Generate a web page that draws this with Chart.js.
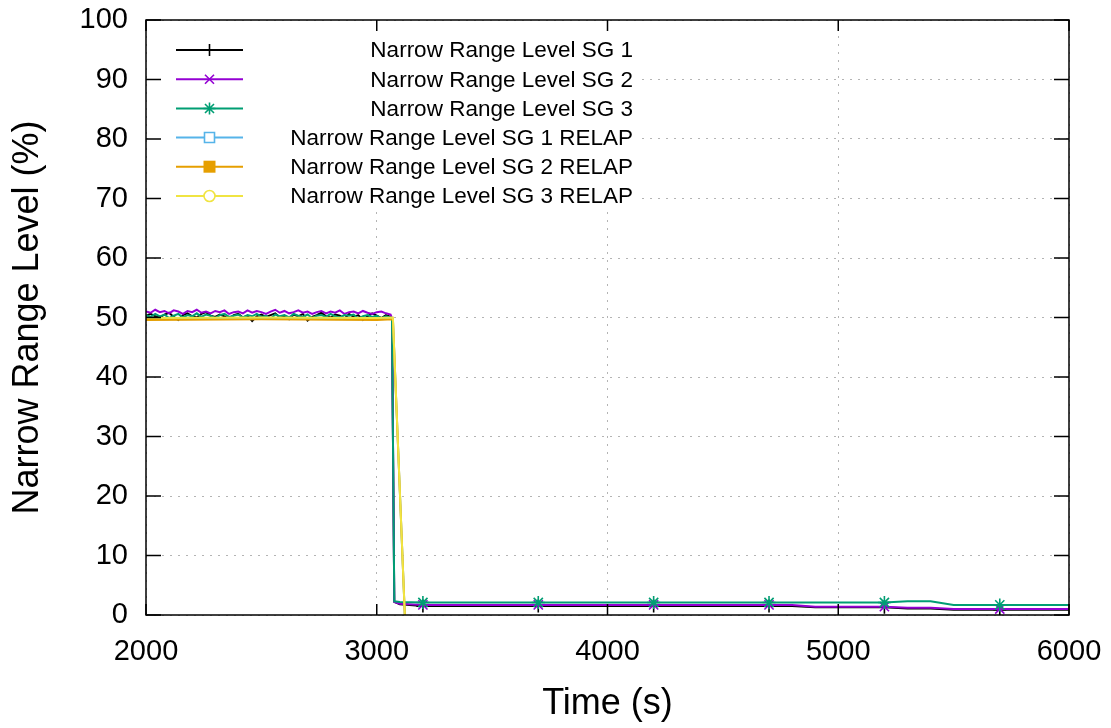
<!DOCTYPE html>
<html>
<head>
<meta charset="utf-8">
<script src="https://cdn.jsdelivr.net/npm/chart.js@4.4.0/dist/chart.umd.min.js"></script>
<style>
  html, body { margin: 0; padding: 0; background: #fff; }
  #wrap { width: 1111px; height: 728px; }
</style>
</head>
<body>
<div id="wrap"><canvas id="nivelChart" width="1111" height="728"></canvas></div>
<script>
// Tiempos de las series medidas (s)
const tiempoMedido = [
    2000, 2020, 2040, 2060, 2080, 2100, 2120, 2140, 2160, 2180,
    2200, 2220, 2240, 2260, 2280, 2300, 2320, 2340, 2360, 2380,
    2400, 2420, 2440, 2460, 2480, 2500, 2520, 2540, 2560, 2580,
    2600, 2620, 2640, 2660, 2680, 2700, 2720, 2740, 2760, 2780,
    2800, 2820, 2840, 2860, 2880, 2900, 2920, 2940, 2960, 2980,
    3000, 3020, 3040, 3060,
    3066, 3076, 3100,
    3200, 3300, 3400, 3500, 3600, 3700, 3800, 3900, 4000, 4100,
    4200, 4300, 4400, 4500, 4600, 4700, 4800, 4900, 5000, 5100,
    5200, 5300, 5400, 5500, 5600, 5700, 5800, 5900, 6000
];

const nivelSG1 = [
    50.3, 50.6, 50.2, 50.0, 50.5, 50.8, 50.1, 49.6, 50.4, 50.7,
    50.2, 50.0, 50.6, 50.9, 50.3, 50.1, 50.5, 50.2, 49.8, 50.4,
    50.6, 50.0, 50.3, 49.4, 50.2, 50.5, 50.1, 50.4, 50.7, 50.0,
    50.3, 49.7, 50.5, 50.2, 50.6, 49.5, 50.1, 50.4, 50.8, 50.2,
    50.0, 50.5, 50.3, 49.8, 50.6, 50.1, 50.4, 49.6, 50.2, 50.7,
    50.3, 49.9, 50.4, 50.1,
    49.8, 2.2, 1.8,
    1.5, 1.5, 1.5, 1.5, 1.5, 1.5, 1.5, 1.5, 1.5, 1.5,
    1.5, 1.5, 1.5, 1.5, 1.5, 1.5, 1.5, 1.3, 1.3, 1.3,
    1.3, 1.1, 1.1, 0.9, 0.9, 0.9, 0.9, 0.9, 0.9
];

const nivelSG2 = [
    51.0, 50.8, 51.3, 50.9, 51.1, 50.7, 51.2, 51.0, 50.6, 51.1,
    50.9, 51.3, 50.8, 51.0, 50.7, 51.1, 50.9, 51.2, 50.6, 50.9,
    51.0, 50.7, 51.2, 50.8, 51.1, 50.9, 50.6, 51.0, 51.3, 50.8,
    51.1, 50.7, 50.9, 51.2, 50.8, 51.0, 50.6, 50.9, 51.1, 50.7,
    51.0, 50.8, 51.2, 50.6, 50.9, 51.0, 50.7, 51.1, 50.8, 50.6,
    50.9, 51.0, 50.7, 50.5,
    49.9, 2.2, 1.9,
    1.7, 1.7, 1.7, 1.7, 1.7, 1.7, 1.7, 1.7, 1.7, 1.7,
    1.7, 1.7, 1.7, 1.7, 1.7, 1.7, 1.7, 1.4, 1.4, 1.4,
    1.4, 1.2, 1.2, 1.0, 1.0, 1.0, 1.0, 1.0, 1.0
];

const nivelSG3 = [
    50.4, 50.1, 50.6, 50.2, 50.5, 49.9, 50.3, 50.6, 50.0, 50.4,
    50.2, 50.7, 50.1, 50.5, 50.3, 49.9, 50.4, 50.6, 50.1, 50.3,
    50.5, 50.0, 50.4, 50.2, 50.6, 50.1, 50.3, 49.8, 50.5, 50.2,
    50.4, 50.0, 50.6, 50.3, 50.1, 50.5, 49.9, 50.3, 50.4, 50.1,
    50.6, 50.2, 50.0, 50.4, 50.3, 50.5, 49.8, 50.2, 50.4, 50.1,
    50.3, 49.9, 50.2, 50.0,
    49.9, 2.3, 2.2,
    2.1, 2.1, 2.1, 2.1, 2.1, 2.1, 2.1, 2.1, 2.1, 2.1,
    2.1, 2.1, 2.1, 2.1, 2.1, 2.1, 2.1, 2.1, 2.1, 2.1,
    2.1, 2.3, 2.3, 1.7, 1.7, 1.7, 1.7, 1.7, 1.7
];

// Series RELAP
const tiempoRelap = [2000, 2500, 3000, 3070, 3132];
const relapSG1 = [49.7, 49.8, 49.7, 49.8, -10];
const relapSG2 = [49.6, 49.7, 49.6, 49.7, -10];
const relapSG3 = [49.9, 50.0, 49.9, 50.0, -10];

// Tiempos donde gnuplot dibuja los marcadores
const tiemposMarcador = [3200, 3700, 4200, 4700, 5200, 5700];

const etiquetas = [
    'Narrow Range Level SG 1',
    'Narrow Range Level SG 2',
    'Narrow Range Level SG 3',
    'Narrow Range Level SG 1 RELAP',
    'Narrow Range Level SG 2 RELAP',
    'Narrow Range Level SG 3 RELAP'
];
const colores = ['#000000', '#9400d3', '#009e73', '#56b4e9', '#e69f00', '#f0e442'];
const marcadores = ['cross', 'crossRot', 'star', 'rectOpen', 'rect', 'circleOpen'];

const FUENTE = "'Liberation Sans', Arial, sans-serif";

function armarPuntos(tiempos, valores) {
    return tiempos.map((t, i) => ({ x: t, y: valores[i] }));
}

function radioMarcador(context) {
    if (!context.raw) return 0;
    return tiemposMarcador.includes(context.raw.x) ? 6.5 : 0;
}

function dibujarMarcador(ctx, estilo, x, y, color) {
    ctx.save();
    ctx.strokeStyle = color;
    ctx.fillStyle = color;
    ctx.lineWidth = 1.6;
    ctx.beginPath();
    if (estilo === 'cross') {
        ctx.moveTo(x - 6, y); ctx.lineTo(x + 6, y);
        ctx.moveTo(x, y - 6); ctx.lineTo(x, y + 6);
        ctx.stroke();
    } else if (estilo === 'crossRot') {
        ctx.moveTo(x - 4.5, y - 4.5); ctx.lineTo(x + 4.5, y + 4.5);
        ctx.moveTo(x - 4.5, y + 4.5); ctx.lineTo(x + 4.5, y - 4.5);
        ctx.stroke();
    } else if (estilo === 'star') {
        ctx.moveTo(x - 6, y); ctx.lineTo(x + 6, y);
        ctx.moveTo(x, y - 6); ctx.lineTo(x, y + 6);
        ctx.moveTo(x - 4.5, y - 4.5); ctx.lineTo(x + 4.5, y + 4.5);
        ctx.moveTo(x - 4.5, y + 4.5); ctx.lineTo(x + 4.5, y - 4.5);
        ctx.stroke();
    } else if (estilo === 'rectOpen') {
        ctx.fillStyle = '#fff';
        ctx.rect(x - 5, y - 5, 10, 10);
        ctx.fill();
        ctx.stroke();
    } else if (estilo === 'rect') {
        ctx.rect(x - 6, y - 6, 12, 12);
        ctx.fill();
    } else if (estilo === 'circleOpen') {
        ctx.fillStyle = '#fff';
        ctx.arc(x, y, 5.5, 0, Math.PI * 2);
        ctx.fill();
        ctx.stroke();
    }
    ctx.restore();
}

// Leyenda, borde y marcas de eje estilo gnuplot
const estiloGnuplot = {
    id: 'estiloGnuplot',
    beforeDatasetsDraw(chart) {
        const ctx = chart.ctx;
        ctx.save();
        ctx.fillStyle = '#fff';
        ctx.fillRect(148, 32, 490, 180);
        ctx.restore();
    },
    afterDraw(chart) {
        const ctx = chart.ctx;
        const area = chart.chartArea;
        const xs = chart.scales.x;
        const ys = chart.scales.y;

        ctx.save();
        ctx.strokeStyle = '#000';
        ctx.lineWidth = 1.5;
        ctx.beginPath();
        ys.ticks.forEach(t => {
            const py = ys.getPixelForValue(t.value);
            ctx.moveTo(area.left, py); ctx.lineTo(area.left + 15, py);
            ctx.moveTo(area.right - 15, py); ctx.lineTo(area.right, py);
        });
        xs.ticks.forEach(t => {
            const px = xs.getPixelForValue(t.value);
            ctx.moveTo(px, area.bottom); ctx.lineTo(px, area.bottom - 11);
            ctx.moveTo(px, area.top); ctx.lineTo(px, area.top + 11);
        });
        ctx.stroke();
        ctx.strokeRect(area.left, area.top, area.right - area.left, area.bottom - area.top);

        // leyenda
        const filas = [50, 79.3, 108.5, 137.5, 166.7, 196];
        ctx.font = '22.5px ' + FUENTE;
        ctx.textAlign = 'right';
        ctx.textBaseline = 'middle';
        etiquetas.forEach((txt, i) => {
            const y = filas[i];
            ctx.strokeStyle = colores[i];
            ctx.lineWidth = 2;
            ctx.beginPath();
            ctx.moveTo(176, y); ctx.lineTo(243, y);
            ctx.stroke();
            dibujarMarcador(ctx, marcadores[i], 209.5, y, colores[i]);
            ctx.fillStyle = '#000';
            ctx.fillText(txt, 633, y + 1);
        });
        ctx.restore();
    }
};

function crearGraficoNivel() {
    const ctx = document.getElementById('nivelChart').getContext('2d');

    const medidas = [nivelSG1, nivelSG2, nivelSG3].map((serie, i) => ({
        label: etiquetas[i],
        data: armarPuntos(tiempoMedido, serie),
        borderColor: colores[i],
        backgroundColor: colores[i],
        borderWidth: 2,
        pointStyle: marcadores[i],
        pointRadius: radioMarcador,
        pointHoverRadius: 0,
        pointBorderWidth: 1.6,
        pointBorderColor: colores[i],
        order: 5 - i
    }));

    const relap = [relapSG1, relapSG2, relapSG3].map((serie, i) => ({
        label: etiquetas[i + 3],
        data: armarPuntos(tiempoRelap, serie),
        borderColor: colores[i + 3],
        backgroundColor: colores[i + 3],
        borderWidth: 2,
        pointRadius: 0,
        pointHoverRadius: 0,
        order: 2 - i
    }));

    new Chart(ctx, {
        type: 'line',
        data: { datasets: medidas.concat(relap) },
        plugins: [estiloGnuplot],
        options: {
            responsive: false,
            animation: false,
            devicePixelRatio: 1,
            layout: { padding: { top: 20, right: 42, left: 0, bottom: 0 } },
            scales: {
                x: {
                    type: 'linear',
                    min: 2000,
                    max: 6000,
                    afterFit: scale => {
                        scale.height = 113;
                        scale.paddingLeft = 0;
                        scale.paddingRight = 0;
                    },
                    ticks: {
                        stepSize: 1000,
                        color: '#000',
                        padding: 20,
                        maxRotation: 0,
                        callback: v => String(v),
                        font: { size: 29, family: FUENTE }
                    },
                    grid: { color: '#b4b4b4', lineWidth: 1, drawTicks: false },
                    border: { display: false, dash: [2, 6] },
                    title: {
                        display: true,
                        text: 'Time (s)',
                        color: '#000',
                        font: { size: 36, family: FUENTE },
                        padding: { top: 0, bottom: 2 }
                    }
                },
                y: {
                    min: 0,
                    max: 100,
                    afterFit: scale => {
                        scale.width = 146;
                        scale.paddingTop = 0;
                        scale.paddingBottom = 0;
                    },
                    ticks: {
                        stepSize: 10,
                        color: '#000',
                        padding: 18,
                        callback: v => String(v),
                        font: { size: 29, family: FUENTE }
                    },
                    grid: { color: '#b4b4b4', lineWidth: 1, drawTicks: false },
                    border: { display: false, dash: [2, 6] },
                    title: {
                        display: true,
                        text: 'Narrow Range Level (%)',
                        color: '#000',
                        font: { size: 36, family: FUENTE },
                        padding: { top: 6, bottom: 0 }
                    }
                }
            },
            plugins: {
                legend: { display: false },
                tooltip: { enabled: false },
                title: { display: false }
            }
        }
    });
}

crearGraficoNivel();
</script>
</body>
</html>
